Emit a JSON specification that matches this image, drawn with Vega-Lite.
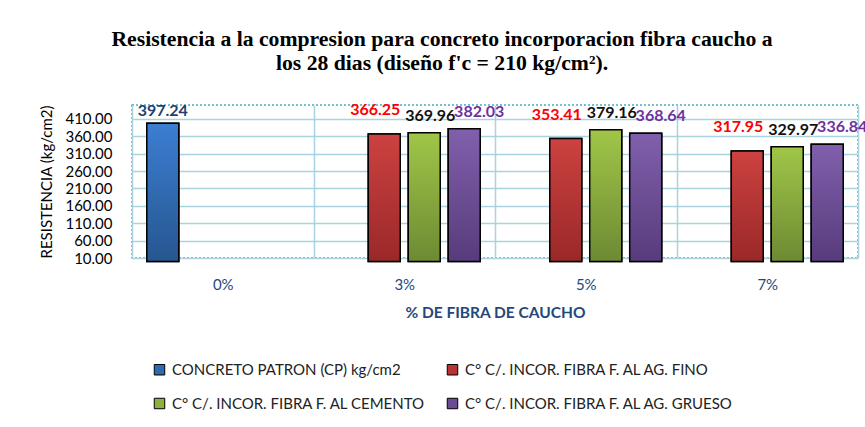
{
  "$schema": "https://vega.github.io/schema/vega-lite/v6.json",
  "width": 726,
  "height": 153,
  "autosize": {"type": "none"},
  "padding": {"left": 132, "top": 105, "right": 7, "bottom": 169},
  "background": "white",
  "config": {
    "font": "Lato",
    "view": {"stroke": "#4BACC6", "strokeDash": [2, 2], "strokeWidth": 1.5}
  },
  "title": {
    "text": ["Resistencia a la compresion para concreto incorporacion fibra caucho a", "los 28 dias (diseño f'c = 210 kg/cm²)."],
    "font": "Liberation Serif",
    "fontSize": 21.7,
    "fontWeight": "bold",
    "color": "black",
    "anchor": "middle",
    "offset": 27,
    "dx": -53,
    "lineHeight": 24
  },
  "data": {
    "values": [
      {"pct": "0%", "serie": "CONCRETO PATRON (CP) kg/cm2", "value": 397.24},
      {"pct": "0%", "serie": "C° C/. INCOR. FIBRA F. AL AG. FINO", "value": 0},
      {"pct": "0%", "serie": "C° C/. INCOR. FIBRA F. AL CEMENTO", "value": 0},
      {"pct": "0%", "serie": "C° C/. INCOR. FIBRA F. AL AG. GRUESO", "value": 0},
      {"pct": "3%", "serie": "CONCRETO PATRON (CP) kg/cm2", "value": 0},
      {"pct": "3%", "serie": "C° C/. INCOR. FIBRA F. AL AG. FINO", "value": 366.25},
      {"pct": "3%", "serie": "C° C/. INCOR. FIBRA F. AL CEMENTO", "value": 369.96},
      {"pct": "3%", "serie": "C° C/. INCOR. FIBRA F. AL AG. GRUESO", "value": 382.03},
      {"pct": "5%", "serie": "CONCRETO PATRON (CP) kg/cm2", "value": 0},
      {"pct": "5%", "serie": "C° C/. INCOR. FIBRA F. AL AG. FINO", "value": 353.41},
      {"pct": "5%", "serie": "C° C/. INCOR. FIBRA F. AL CEMENTO", "value": 379.16},
      {"pct": "5%", "serie": "C° C/. INCOR. FIBRA F. AL AG. GRUESO", "value": 368.64},
      {"pct": "7%", "serie": "CONCRETO PATRON (CP) kg/cm2", "value": 0},
      {"pct": "7%", "serie": "C° C/. INCOR. FIBRA F. AL AG. FINO", "value": 317.95},
      {"pct": "7%", "serie": "C° C/. INCOR. FIBRA F. AL CEMENTO", "value": 329.97},
      {"pct": "7%", "serie": "C° C/. INCOR. FIBRA F. AL AG. GRUESO", "value": 336.84}
    ]
  },
  "encoding": {
    "x": {
      "field": "pct",
      "type": "nominal",
      "sort": ["0%", "3%", "5%", "7%"],
      "scale": {"paddingInner": 0, "paddingOuter": 0},
      "axis": {
        "title": "% DE FIBRA DE CAUCHO",
        "titleColor": "#1F497D",
        "titleFontSize": 15.5,
        "titleFontWeight": "bold",
        "titlePadding": 13,
        "labelColor": "#1F497D",
        "labelFontSize": 15,
        "labelAngle": 0,
        "labelPadding": 19,
        "ticks": false,
        "domain": false,
        "grid": true,
        "tickBand": "extent",
        "gridColor": "#A9D3DE",
        "gridWidth": 1.5
      }
    },
    "xOffset": {
      "field": "serie",
      "sort": ["CONCRETO PATRON (CP) kg/cm2", "C° C/. INCOR. FIBRA F. AL AG. FINO", "C° C/. INCOR. FIBRA F. AL CEMENTO", "C° C/. INCOR. FIBRA F. AL AG. GRUESO"],
      "scale": {"paddingInner": 0.2, "paddingOuter": 0.37}
    },
    "y": {
      "field": "value",
      "type": "quantitative",
      "scale": {"domain": [10, 450], "zero": false, "nice": false},
      "axis": {
        "title": "RESISTENCIA (kg/cm2)",
        "titleFontSize": 15,
        "titleFontWeight": "normal",
        "titleColor": "black",
        "titlePadding": 10,
        "values": [10, 60, 110, 160, 210, 260, 310, 360, 410],
        "format": ".2f",
        "labelFontSize": 15,
        "labelColor": "black",
        "labelPadding": 20,
        "ticks": false,
        "domain": false,
        "grid": true,
        "gridColor": "#A9D3DE",
        "gridWidth": 1.5
      }
    }
  },
  "layer": [
    {
      "mark": {"type": "bar", "stroke": "black", "strokeWidth": 1.5},
      "encoding": {
        "color": {
          "field": "serie",
          "type": "nominal",
          "sort": ["CONCRETO PATRON (CP) kg/cm2", "C° C/. INCOR. FIBRA F. AL AG. FINO", "C° C/. INCOR. FIBRA F. AL CEMENTO", "C° C/. INCOR. FIBRA F. AL AG. GRUESO"],
          "scale": {
            "domain": ["CONCRETO PATRON (CP) kg/cm2", "C° C/. INCOR. FIBRA F. AL AG. FINO", "C° C/. INCOR. FIBRA F. AL CEMENTO", "C° C/. INCOR. FIBRA F. AL AG. GRUESO"],
            "range": ["#2F6AB0", "#B83434", "#8DB03F", "#6A4B94"]
          },
          "legend": {
            "title": null,
            "orient": "none",
            "legendX": 20,
            "legendY": 257,
            "columns": 2,
            "direction": "horizontal",
            "symbolType": "square",
            "symbolSize": 110,
            "symbolStrokeColor": "black",
            "symbolStrokeWidth": 1,
            "labelFontSize": 15,
            "labelColor": "#222222",
            "labelLimit": 400,
            "labelOffset": 5,
            "columnPadding": 19,
            "rowPadding": 18
          }
        },
        "opacity": {"condition": {"test": "datum.value === 0", "value": 0.35}, "value": 1},
        "strokeOpacity": {"condition": {"test": "datum.value === 0", "value": 0}, "value": 1}
      }
    },
    {
      "transform": [{"filter": "datum.serie === 'CONCRETO PATRON (CP) kg/cm2' && datum.value > 0"}],
      "mark": {"type": "bar", "stroke": "black", "strokeWidth": 1.5, "color": {"gradient": "linear", "x1": 0, "y1": 0, "x2": 0, "y2": 1, "stops": [{"offset": 0, "color": "#3C7ED2"}, {"offset": 1, "color": "#26568F"}]}},
      "encoding": {}
    },
    {
      "transform": [{"filter": "datum.serie === 'C° C/. INCOR. FIBRA F. AL AG. FINO' && datum.value > 0"}],
      "mark": {"type": "bar", "stroke": "black", "strokeWidth": 1.5, "color": {"gradient": "linear", "x1": 0, "y1": 0, "x2": 0, "y2": 1, "stops": [{"offset": 0, "color": "#CC4240"}, {"offset": 1, "color": "#9A2828"}]}},
      "encoding": {}
    },
    {
      "transform": [{"filter": "datum.serie === 'C° C/. INCOR. FIBRA F. AL CEMENTO' && datum.value > 0"}],
      "mark": {"type": "bar", "stroke": "black", "strokeWidth": 1.5, "color": {"gradient": "linear", "x1": 0, "y1": 0, "x2": 0, "y2": 1, "stops": [{"offset": 0, "color": "#A0C648"}, {"offset": 1, "color": "#6D8A33"}]}},
      "encoding": {}
    },
    {
      "transform": [{"filter": "datum.serie === 'C° C/. INCOR. FIBRA F. AL AG. GRUESO' && datum.value > 0"}],
      "mark": {"type": "bar", "stroke": "black", "strokeWidth": 1.5, "color": {"gradient": "linear", "x1": 0, "y1": 0, "x2": 0, "y2": 1, "stops": [{"offset": 0, "color": "#8060AC"}, {"offset": 1, "color": "#583B7C"}]}},
      "encoding": {}
    },
    {
      "transform": [{"filter": "datum.serie === 'CONCRETO PATRON (CP) kg/cm2' && datum.value > 0"}],
      "mark": {"type": "text", "fontSize": 16, "fontWeight": "bold", "color": "#1F3F70", "baseline": "middle", "dy": -12},
      "encoding": {"text": {"field": "value", "type": "quantitative", "format": ".2f"}}
    },
    {
      "transform": [{"filter": "datum.serie === 'C° C/. INCOR. FIBRA F. AL AG. FINO' && datum.value > 0"}],
      "mark": {"type": "text", "fontSize": 16, "fontWeight": "bold", "color": "#FF0000", "baseline": "middle", "dx": -9, "dy": -24},
      "encoding": {"text": {"field": "value", "type": "quantitative", "format": ".2f"}}
    },
    {
      "transform": [{"filter": "datum.serie === 'C° C/. INCOR. FIBRA F. AL CEMENTO' && datum.value > 0"}],
      "mark": {"type": "text", "fontSize": 16, "fontWeight": "bold", "color": "#111111", "baseline": "middle", "dx": 6, "dy": -17},
      "encoding": {"text": {"field": "value", "type": "quantitative", "format": ".2f"}}
    },
    {
      "transform": [{"filter": "datum.serie === 'C° C/. INCOR. FIBRA F. AL AG. GRUESO' && datum.value > 0"}],
      "mark": {"type": "text", "fontSize": 16, "fontWeight": "bold", "color": "#7030A0", "baseline": "middle", "dx": 15, "dy": -17},
      "encoding": {"text": {"field": "value", "type": "quantitative", "format": ".2f"}}
    }
  ]
}
